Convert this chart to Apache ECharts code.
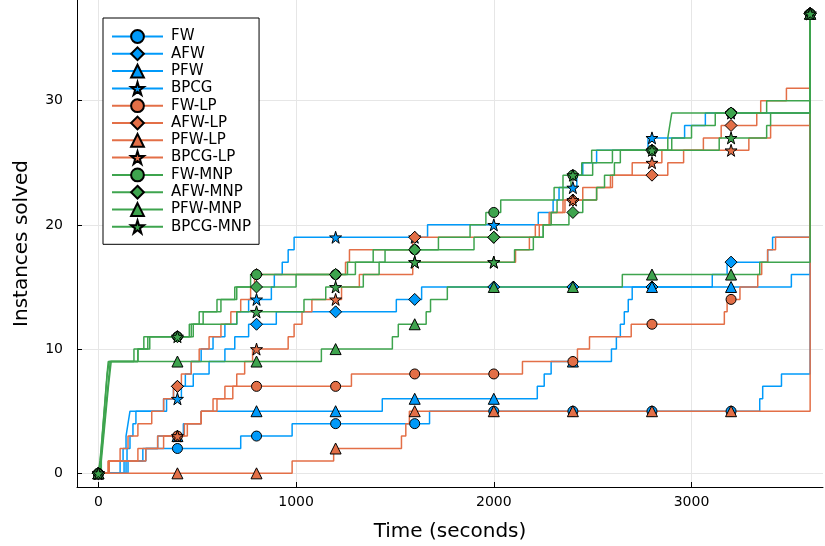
<!DOCTYPE html>
<html>
<head>
<meta charset="utf-8">
<script src="https://cdn.jsdelivr.net/npm/echarts@6/dist/echarts.min.js"></script>
<style>
  html, body { margin: 0; padding: 0; background: #fff; }
  #chart { width: 825px; height: 546px; }
</style>
</head>
<body>
<div id="chart"></div>
<script>
const seriesNames = ['FW', 'AFW', 'PFW', 'BPCG', 'FW-LP', 'AFW-LP', 'PFW-LP', 'BPCG-LP',
  'FW-MNP', 'AFW-MNP', 'PFW-MNP', 'BPCG-MNP'];

// marker positions (seconds)
const markTimes = [0, 400, 800, 1200, 1600, 2000, 2400, 2800, 3200, 3600];
const xTicks = [0, 1000, 2000, 3000];
const yTicks = [0, 10, 20, 30];

// [time, instances solved] at each step
const fw = [[0, 0], [140, 1], [225, 2], [720, 3], [980, 4], [1675, 5], [3345, 6], [3360, 7], [3455, 8], [3600, 37]];
const afw = [[0, 0], [130, 1], [145, 2], [160, 3], [175, 4], [190, 5], [330, 6], [380, 7], [480, 8], [560, 9],
  [640, 10], [690, 11], [760, 12], [900, 13], [1507, 14], [1635, 15], [3105, 16], [3180, 17], [3385, 18],
  [3410, 19], [3600, 37]];
const pfw = [[0, 0], [150, 1], [240, 2], [300, 3], [430, 4], [520, 5], [1436, 6], [2220, 7], [2255, 8],
  [2290, 9], [2595, 10], [2620, 11], [2640, 12], [2660, 13], [2680, 14], [2700, 15], [3505, 16], [3600, 37]];
const bpcg = [[0, 0], [110, 1], [125, 2], [140, 3], [150, 4], [160, 5], [345, 6], [420, 7], [440, 8], [470, 9],
  [520, 10], [580, 11], [640, 12], [700, 13], [760, 14], [875, 15], [890, 16], [930, 17], [960, 18], [990, 19],
  [1665, 20], [2225, 21], [2300, 22], [2330, 23], [2420, 24], [2450, 25], [2520, 26], [2780, 27], [2965, 28],
  [3070, 29], [3600, 37]];
const fwLp = [[0, 0], [50, 1], [240, 2], [330, 3], [450, 4], [520, 5], [600, 6], [680, 7], [1280, 8], [2145, 9],
  [2423, 10], [2484, 11], [2695, 12], [3166, 13], [3180, 14], [3245, 15], [3335, 16], [3355, 17], [3385, 18],
  [3425, 19], [3600, 37]];
const afwLp = [[0, 0], [55, 1], [110, 2], [150, 3], [200, 4], [270, 5], [330, 6], [380, 7], [420, 8], [470, 9],
  [510, 10], [560, 11], [620, 12], [670, 13], [720, 14], [770, 15], [790, 16], [1250, 17], [1270, 18],
  [1590, 19], [2210, 20], [2280, 21], [2360, 22], [2520, 23], [2590, 24], [2880, 25], [2960, 26], [3060, 27],
  [3150, 28], [3330, 29], [3350, 30], [3480, 31], [3600, 37]];
const pfwLp = [[0, 0], [980, 1], [1190, 2], [1533, 3], [1555, 4], [1573, 5], [3600, 37]];
const bpcgLp = [[0, 0], [50, 1], [200, 2], [300, 3], [435, 4], [520, 5], [580, 6], [640, 7], [700, 8], [740, 9],
  [780, 10], [960, 11], [990, 12], [1030, 13], [1080, 14], [1230, 15], [1320, 16], [1590, 17], [2110, 18],
  [2180, 19], [2230, 20], [2290, 21], [2350, 22], [2450, 23], [2600, 24], [2700, 25], [2850, 26], [3290, 27],
  [3400, 28], [3600, 37]];
const fwMnp = [[0, 0], [10, 1], [15, 2], [20, 3], [25, 4], [30, 5], [35, 6], [40, 7], [45, 8], [55, 9],
  [180, 10], [230, 11], [460, 12], [510, 13], [600, 14], [690, 15], [770, 16], [1260, 17], [1390, 18],
  [1720, 19], [1880, 20], [1960, 21], [2035, 22], [2305, 23], [2350, 24], [2445, 25], [2495, 26], [2880, 27],
  [2890, 28], [2900, 29], [3600, 37]];
const afwMnp = [[0, 0], [12, 1], [18, 2], [24, 3], [30, 4], [36, 5], [42, 6], [48, 7], [54, 8], [60, 9],
  [200, 10], [250, 11], [470, 12], [530, 13], [620, 14], [700, 15], [1000, 16], [1300, 17], [1450, 18],
  [1900, 19], [2250, 20], [2380, 21], [2450, 22], [2520, 23], [2560, 24], [2610, 25], [2640, 26], [2900, 27],
  [3000, 28], [3120, 29], [3380, 30], [3600, 37]];
const pfwMnp = [[0, 0], [8, 1], [14, 2], [19, 3], [24, 4], [29, 5], [34, 6], [39, 7], [44, 8], [50, 9],
  [1128, 10], [1487, 11], [1517, 12], [1658, 13], [1680, 14], [1765, 15], [2650, 16], [3345, 17], [3600, 37]];
const bpcgMnp = [[0, 0], [15, 1], [21, 2], [27, 3], [33, 4], [39, 5], [45, 6], [51, 7], [58, 8], [65, 9],
  [200, 10], [260, 11], [480, 12], [700, 13], [1040, 14], [1150, 15], [1340, 16], [1420, 17], [2105, 18],
  [2200, 19], [2250, 20], [2290, 21], [2320, 22], [2350, 23], [2390, 24], [2500, 25], [2600, 26], [3140, 27],
  [3380, 28], [3400, 29], [3600, 37]];

const allSteps = [fw, afw, pfw, bpcg, fwLp, afwLp, pfwLp, bpcgLp, fwMnp, afwMnp, pfwMnp, bpcgMnp];

const blue = '#009AFA', orange = '#E36F47', green = '#3EA44E';
const colors = [blue, blue, blue, blue, orange, orange, orange, orange, green, green, green, green];
const star = 'path://M50,0 L61,35 L98,35 L68,57 L79,91 L50,70 L21,91 L32,57 L2,35 L39,35 Z';
const shapes = ['circle', 'diamond', 'triangle', star];
const sizes = [10, 12, 11, 12];

// step points are hidden, the samples at markTimes carry the marker
function buildData(steps) {
  const pts = steps.map(s => ({ value: [s[0], s[1]], symbol: 'none' }));
  markTimes.forEach(mt => {
    let v = 0;
    steps.forEach(s => { if (s[0] <= mt) v = s[1]; });
    pts.push({ value: [mt, v] });
  });
  pts.sort((a, b) => a.value[0] - b.value[0] || a.value[1] - b.value[1]);
  return pts;
}

const series = seriesNames.map((name, i) => ({
  name: name,
  type: 'line',
  step: 'end',
  data: buildData(allSteps[i]),
  symbol: shapes[i % 4],
  symbolSize: sizes[i % 4],
  showAllSymbol: true,
  color: colors[i],
  lineStyle: { width: 1.5, color: colors[i] },
  itemStyle: { color: colors[i], borderColor: '#000', borderWidth: 1 },
  emphasis: { disabled: true }
}));

const font = 'DejaVu Sans';
const myChart = echarts.init(document.getElementById('chart'));
myChart.setOption({
  animation: false,
  backgroundColor: '#fff',
  grid: { left: 77, right: 2, top: 0, bottom: 59, outerBoundsMode: 'none', containLabel: false },
  legend: {
    orient: 'vertical',
    left: 103,
    top: 18,
    padding: [11, 8, 10, 8],
    itemWidth: 51,
    itemHeight: 16,
    itemGap: 2.3,
    borderColor: '#000',
    borderWidth: 1,
    backgroundColor: '#fff',
    textStyle: { fontFamily: font, fontSize: 15, color: '#000', padding: [0, 0, 0, 3] },
    data: seriesNames
  },
  xAxis: {
    type: 'value',
    min: -108,
    max: 3665,
    name: 'Time (seconds)',
    nameLocation: 'middle',
    nameGap: 35,
    nameTextStyle: { fontFamily: font, fontSize: 20, color: '#000' },
    axisLine: { onZero: false, lineStyle: { color: '#000', width: 1 } },
    axisTick: { inside: true, length: 5, customValues: xTicks, lineStyle: { color: '#000' } },
    axisLabel: { customValues: xTicks, formatter: v => String(v), fontFamily: font, fontSize: 14, color: '#000', margin: 8 },
    splitLine: { show: true, lineStyle: { color: '#e6e6e6', width: 1 } }
  },
  yAxis: {
    type: 'value',
    min: -1.1,
    max: 38.1,
    name: 'Instances solved',
    nameLocation: 'middle',
    nameGap: 45,
    nameTextStyle: { fontFamily: font, fontSize: 20, color: '#000' },
    axisLine: { show: true, onZero: false, lineStyle: { color: '#000', width: 1 } },
    axisTick: { show: true, inside: true, length: 5, customValues: yTicks, lineStyle: { color: '#000' } },
    axisLabel: { customValues: yTicks, fontFamily: font, fontSize: 14, color: '#000', margin: 14 },
    splitLine: { show: true, lineStyle: { color: '#e6e6e6', width: 1 } }
  },
  series: series
});
</script>
</body>
</html>
